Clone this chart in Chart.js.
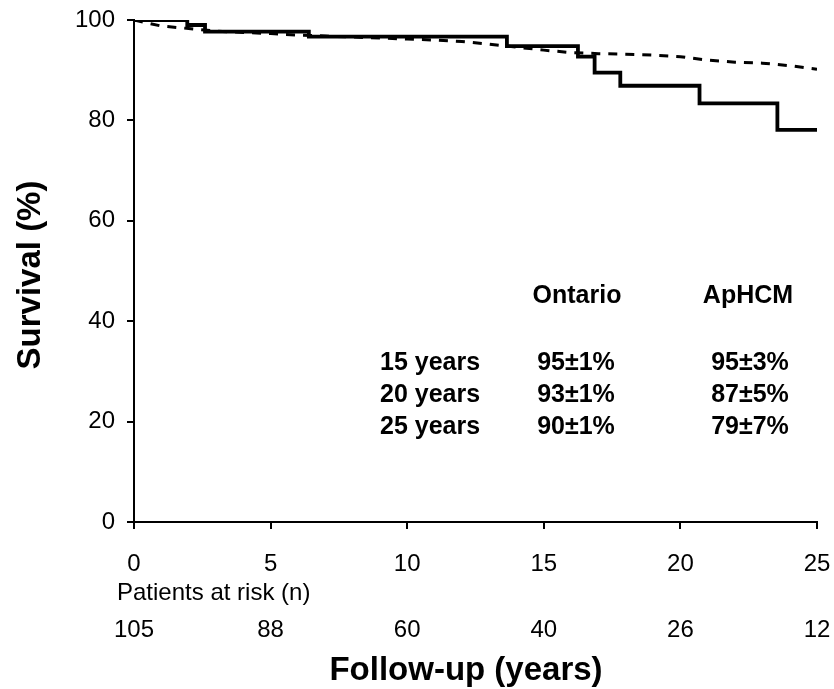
<!DOCTYPE html>
<html>
<head>
<meta charset="utf-8">
<script src="https://cdn.jsdelivr.net/npm/chart.js@4/dist/chart.umd.min.js"></script>
<style>
  body { margin: 0; background: #fff; }
  #wrap { width: 834px; height: 689px; }
</style>
</head>
<body>
<div id="wrap"><canvas id="kmChart" width="834" height="689"></canvas></div>
<script>
// ApHCM Kaplan-Meier steps (years, survival %)
const aphcmYears = [0, 1.95, 2.6, 6.4, 13.65, 16.25, 16.86, 17.8, 20.7, 23.55, 25];
const aphcmSurv  = [100, 99.0, 97.7, 96.7, 94.8, 92.7, 89.5, 86.9, 83.4, 78.1, 78.1];

// Ontario population curve (dashed)
const ontarioYears = [0, 0.5, 1, 2, 3, 4, 5, 6, 7, 8, 9, 10, 11, 12, 13, 14, 15, 16, 17, 18, 19, 20, 21, 22, 23, 24, 25];
const ontarioSurv  = [100, 99.4, 98.8, 98.3, 97.8, 97.5, 97.3, 97.0, 96.8, 96.6, 96.4, 96.2, 96.0, 95.7, 95.2, 94.6, 94.0, 93.5, 93.3, 93.2, 93.0, 92.7, 92.0, 91.6, 91.4, 90.9, 90.2];

// patients at risk under each x tick
const riskYears = [0, 5, 10, 15, 20, 25];
const atRisk = [105, 88, 60, 40, 26, 12];

// summary table
const tableCols = ["Ontario", "ApHCM"];
const tableRows = ["15 years", "20 years", "25 years"];
const ontarioTable = ["95±1%", "93±1%", "90±1%"];
const aphcmTable = ["95±3%", "87±5%", "79±7%"];

const FONT = "'Liberation Sans', Arial, Helvetica, sans-serif";

const toXY = (xs, ys) => xs.map((x, i) => ({x: x, y: ys[i]}));

const textPlugin = {
  id: 'textPlugin',
  afterDraw(chart) {
    const ctx = chart.ctx;
    const xs = chart.scales.x;
    ctx.save();
    ctx.fillStyle = '#000';

    // y title
    ctx.save();
    ctx.translate(31, 275);
    ctx.rotate(-Math.PI / 2);
    ctx.font = "bold 33px " + FONT;
    ctx.textAlign = 'center';
    ctx.textBaseline = 'middle';
    ctx.fillText("Survival (%)", 0, 0);
    ctx.restore();

    // patients at risk
    ctx.font = "24px " + FONT;
    ctx.textAlign = 'left';
    ctx.textBaseline = 'alphabetic';
    ctx.fillText("Patients at risk (n)", 117, 600);
    ctx.textAlign = 'center';
    riskYears.forEach((yr, i) => {
      ctx.fillText(String(atRisk[i]), xs.getPixelForValue(yr), 637);
    });

    // x title
    ctx.font = "bold 33px " + FONT;
    ctx.fillText("Follow-up (years)", 466, 680);

    // table
    ctx.font = "bold 25px " + FONT;
    ctx.fillText(tableCols[0], 577, 303);
    ctx.fillText(tableCols[1], 748, 303);
    const rowY = [370, 402, 434];
    tableRows.forEach((r, i) => {
      ctx.textAlign = 'left';
      ctx.fillText(r, 380, rowY[i]);
      ctx.textAlign = 'center';
      ctx.fillText(ontarioTable[i], 576, rowY[i]);
      ctx.fillText(aphcmTable[i], 750, rowY[i]);
    });
    ctx.restore();
  }
};

new Chart(document.getElementById('kmChart').getContext('2d'), {
  type: 'scatter',
  data: {
    datasets: [
      {
        label: 'Ontario',
        data: toXY(ontarioYears, ontarioSurv),
        showLine: true,
        borderColor: '#000',
        borderWidth: 3,
        borderDash: [9, 8],
        pointRadius: 0,
        fill: false
      },
      {
        label: 'ApHCM',
        data: toXY(aphcmYears, aphcmSurv),
        showLine: true,
        stepped: true,
        borderColor: '#000',
        borderWidth: 3.8,
        pointRadius: 0,
        fill: false
      }
    ]
  },
  options: {
    responsive: false,
    animation: false,
    devicePixelRatio: 1,
    layout: { padding: { left: 0, top: 20, right: 17, bottom: 0 } },
    plugins: {
      legend: { display: false },
      tooltip: { enabled: false }
    },
    scales: {
      x: {
        type: 'linear',
        min: 0,
        max: 25,
        afterFit: (s) => { s.height = 167; s.paddingLeft = 0; s.paddingRight = 0; },
        ticks: {
          stepSize: 5,
          color: '#000',
          padding: 21,
          maxRotation: 0,
          font: { family: FONT, size: 24 }
        },
        grid: { drawOnChartArea: false, drawTicks: true, tickLength: 7, color: '#000', lineWidth: 2 },
        border: { color: '#000', width: 2 }
      },
      y: {
        min: 0,
        max: 100,
        afterFit: (s) => { s.width = 134; s.paddingTop = 0; s.paddingBottom = 0; },
        ticks: {
          stepSize: 20,
          color: '#000',
          padding: 12,
          font: { family: FONT, size: 24 }
        },
        grid: { drawOnChartArea: false, drawTicks: true, tickLength: 7, color: '#000', lineWidth: 2 },
        border: { color: '#000', width: 2 }
      }
    }
  },
  plugins: [textPlugin]
});
</script>
</body>
</html>
